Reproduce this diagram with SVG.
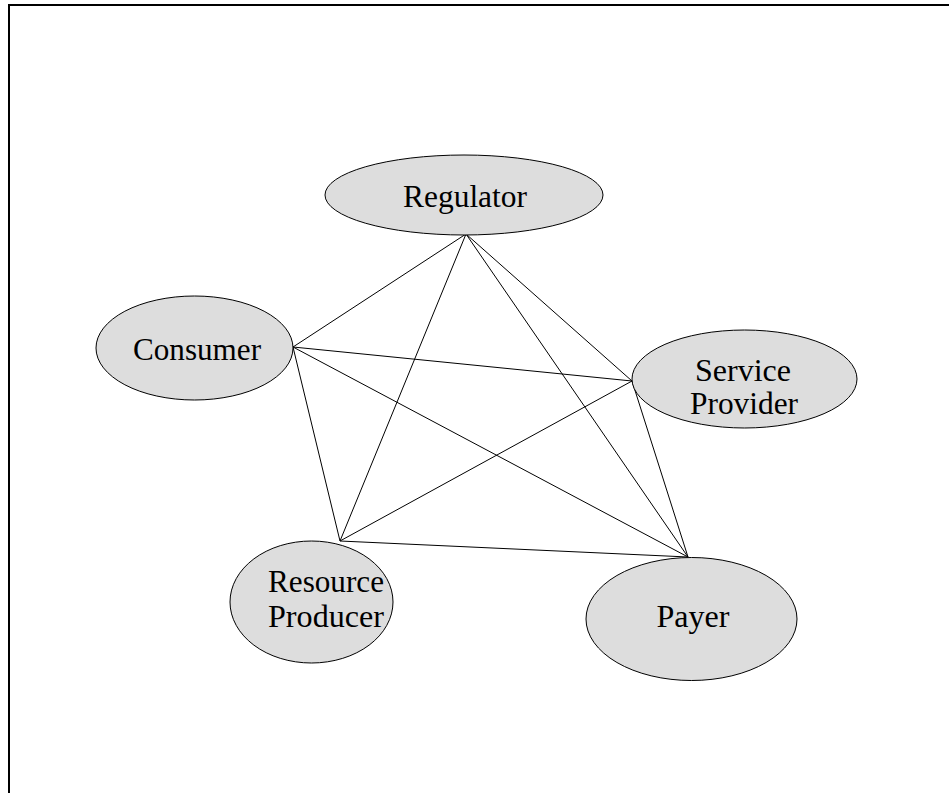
<svg xmlns="http://www.w3.org/2000/svg" width="949" height="793" viewBox="0 0 949 793">
  <style>
    .frame { fill: none; stroke: #000; stroke-width: 2; }
    .node ellipse { fill: #dddddd; stroke: #000; stroke-width: 1; }
    .node text { font-family: "Liberation Serif", "Times New Roman", serif; font-size: 32px; fill: #000; text-anchor: middle; }
    #connectors line { stroke: #000; stroke-width: 1; }
  </style>
  <rect width="949" height="793" fill="#fff"/>
  <!-- open frame: top and left edges -->
  <path class="frame" d="M9 793 V5 H949"/>

  <g id="connectors">
    <!-- Regulator -->
    <line x1="466" y1="234" x2="293" y2="347"/>
    <line x1="466" y1="234" x2="340" y2="541"/>
    <line x1="466" y1="234" x2="632" y2="381"/>
    <line x1="466" y1="234" x2="688" y2="557"/>
    <!-- Consumer -->
    <line x1="293" y1="347" x2="632" y2="381"/>
    <line x1="293" y1="347" x2="688" y2="557"/>
    <line x1="293" y1="347" x2="340" y2="541"/>
    <!-- Service Provider -->
    <line x1="632" y1="381" x2="340" y2="541"/>
    <line x1="632" y1="381" x2="688" y2="557"/>
    <!-- Resource Producer -->
    <line x1="340" y1="541" x2="688" y2="557"/>
  </g>

  <g id="regulator" class="node">
    <ellipse cx="464" cy="195" rx="139" ry="40"/>
    <text x="465" y="207" textLength="124" lengthAdjust="spacingAndGlyphs">Regulator</text>
  </g>
  <g id="consumer" class="node">
    <ellipse cx="194.5" cy="348" rx="98.5" ry="52"/>
    <text x="197" y="360" textLength="128" lengthAdjust="spacingAndGlyphs">Consumer</text>
  </g>
  <g id="service-provider" class="node">
    <ellipse cx="744.5" cy="379" rx="112.5" ry="49"/>
    <text x="743" y="381" textLength="96" lengthAdjust="spacingAndGlyphs">Service</text>
    <text x="744" y="414" textLength="108" lengthAdjust="spacingAndGlyphs">Provider</text>
  </g>
  <g id="resource-producer" class="node">
    <ellipse cx="311.5" cy="602" rx="81.5" ry="61"/>
    <text x="326" y="592" textLength="116" lengthAdjust="spacingAndGlyphs">Resource</text>
    <text x="326" y="627" textLength="116" lengthAdjust="spacingAndGlyphs">Producer</text>
  </g>
  <g id="payer" class="node">
    <ellipse cx="691.5" cy="619" rx="105.5" ry="61.5"/>
    <text x="693" y="627" textLength="73" lengthAdjust="spacingAndGlyphs">Payer</text>
  </g>
</svg>
